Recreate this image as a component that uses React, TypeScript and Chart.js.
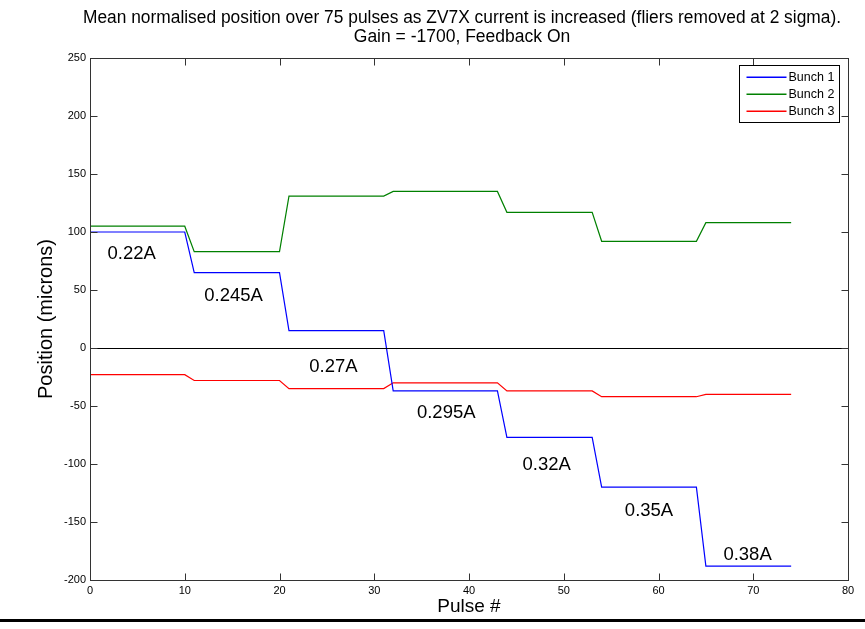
import React, { useEffect, useRef } from "react";
import { Chart, registerables } from "chart.js";

Chart.register(...registerables);

const titleLines = [
  "Mean normalised position over 75 pulses as ZV7X current is increased (fliers removed at 2 sigma).",
  "Gain = -1700, Feedback On",
];
const xTitle = "Pulse #";
const yTitle = "Position (microns)";

const pulses = Array.from({ length: 75 }, (_, i) => i);

const bunch1 = [
  100, 100, 100, 100, 100, 100, 100, 100, 100, 100, 100,
  65, 65, 65, 65, 65, 65, 65, 65, 65, 65,
  15, 15, 15, 15, 15, 15, 15, 15, 15, 15, 15,
  -37, -37, -37, -37, -37, -37, -37, -37, -37, -37, -37, -37,
  -77, -77, -77, -77, -77, -77, -77, -77, -77, -77,
  -120, -120, -120, -120, -120, -120, -120, -120, -120, -120, -120,
  -188, -188, -188, -188, -188, -188, -188, -188, -188, -188,
];
const bunch2 = [
  105, 105, 105, 105, 105, 105, 105, 105, 105, 105, 105,
  83, 83, 83, 83, 83, 83, 83, 83, 83, 83,
  131, 131, 131, 131, 131, 131, 131, 131, 131, 131, 131,
  135, 135, 135, 135, 135, 135, 135, 135, 135, 135, 135, 135,
  117, 117, 117, 117, 117, 117, 117, 117, 117, 117,
  92, 92, 92, 92, 92, 92, 92, 92, 92, 92, 92,
  108, 108, 108, 108, 108, 108, 108, 108, 108, 108,
];
const bunch3 = [
  -23, -23, -23, -23, -23, -23, -23, -23, -23, -23, -23,
  -28, -28, -28, -28, -28, -28, -28, -28, -28, -28,
  -35, -35, -35, -35, -35, -35, -35, -35, -35, -35, -35,
  -30, -30, -30, -30, -30, -30, -30, -30, -30, -30, -30, -30,
  -37, -37, -37, -37, -37, -37, -37, -37, -37, -37,
  -42, -42, -42, -42, -42, -42, -42, -42, -42, -42, -42,
  -40, -40, -40, -40, -40, -40, -40, -40, -40, -40,
];

const seriesNames = ["Bunch 1", "Bunch 2", "Bunch 3"];
const seriesColors = ["#0000ff", "#008000", "#ff0000"];

// current annotations (text, pulse, position) in data units
const currentLabels = ["0.22A", "0.245A", "0.27A", "0.295A", "0.32A", "0.35A", "0.38A"];
const currentLabelPulse = [4.4, 15.15, 25.7, 37.6, 48.2, 59, 69.4];
const currentLabelPos = [76.5, 40.3, -21, -60.6, -105, -145, -183];

const FONT = "'Liberation Sans', Arial, Helvetica, sans-serif";

const matlabPlugin = {
  id: "matlabDecor",
  afterLayout(chart: any) {
    const tb = chart.titleBlock;
    if (tb) {
      tb.left -= 7;
      tb.right -= 7;
    }
  },
  afterDatasetsDraw(chart: any) {
    const { ctx, chartArea: ca, scales } = chart;
    const ys = scales.y;
    ctx.save();
    const y0 = Math.round(ys.getPixelForValue(0)) + 0.5;
    ctx.strokeStyle = "#000";
    ctx.lineWidth = 1;
    ctx.beginPath();
    ctx.moveTo(ca.left, y0);
    ctx.lineTo(ca.right, y0);
    ctx.stroke();
    ctx.restore();
  },
  afterDraw(chart: any) {
    const { ctx, chartArea: ca, scales } = chart;
    const xs = scales.x;
    const ys = scales.y;
    ctx.save();
    const L = Math.round(ca.left) + 0.5;
    const R = Math.round(ca.right) + 0.5;
    const T = Math.round(ca.top) + 0.5;
    const B = Math.round(ca.bottom) + 0.5;
    ctx.strokeStyle = "#333";
    ctx.lineWidth = 1;
    ctx.strokeRect(L, T, R - L, B - T);
    const tl = 7;
    ctx.beginPath();
    xs.ticks.forEach((t: any) => {
      const px = Math.round(xs.getPixelForValue(t.value)) + 0.5;
      ctx.moveTo(px, B);
      ctx.lineTo(px, B - tl);
      ctx.moveTo(px, T);
      ctx.lineTo(px, T + tl);
    });
    ys.ticks.forEach((t: any) => {
      const py = Math.round(ys.getPixelForValue(t.value)) + 0.5;
      ctx.moveTo(L, py);
      ctx.lineTo(L + tl, py);
      ctx.moveTo(R, py);
      ctx.lineTo(R - tl, py);
    });
    ctx.stroke();

    // current annotations
    ctx.fillStyle = "#000";
    ctx.font = `18.5px ${FONT}`;
    ctx.textAlign = "center";
    ctx.textBaseline = "alphabetic";
    currentLabels.forEach((txt, i) => {
      const px = xs.getPixelForValue(currentLabelPulse[i]);
      const py = ys.getPixelForValue(currentLabelPos[i]);
      ctx.fillText(txt, px, py);
    });

    // legend box
    const bw = 100;
    const bh = 57;
    const bx = Math.round(ca.right) - 9 - bw + 0.5;
    const by = Math.round(ca.top) + 7 + 0.5;
    ctx.fillStyle = "#fff";
    ctx.fillRect(bx, by, bw, bh);
    ctx.strokeStyle = "#000";
    ctx.lineWidth = 1;
    ctx.strokeRect(bx, by, bw, bh);
    ctx.font = `12.5px ${FONT}`;
    ctx.textAlign = "left";
    ctx.textBaseline = "middle";
    seriesNames.forEach((name, i) => {
      const ry = Math.round(by + 11 + i * 17);
      ctx.fillStyle = seriesColors[i];
      ctx.fillRect(bx + 7, ry - 0.5, 40, 1.5);
      ctx.fillStyle = "#000";
      ctx.fillText(name, bx + 49, ry + 0.5);
    });

    // bottom rule of the figure
    ctx.fillStyle = "#000";
    ctx.fillRect(0, 619, chart.width, 3);
    ctx.restore();
  },
};

export default function App() {
  const ref = useRef<HTMLCanvasElement | null>(null);
  useEffect(() => {
    if (!ref.current) return;
    const mk = (vals: number[]) => pulses.map((p, i) => ({ x: p, y: vals[i] }));
    const seriesData = [bunch1, bunch2, bunch3];
    const chart = new Chart(ref.current, {
      type: "line",
      data: {
        datasets: seriesData.map((vals, i) => ({
          label: seriesNames[i],
          data: mk(vals),
          borderColor: seriesColors[i],
          backgroundColor: seriesColors[i],
          borderWidth: 1.2,
          pointRadius: 0,
          tension: 0,
        })),
      },
      options: {
        responsive: false,
        animation: false,
        layout: { padding: { top: 0, left: 0, right: 17, bottom: 0 } },
        plugins: {
          legend: { display: false },
          tooltip: { enabled: false },
          title: {
            display: true,
            text: titleLines,
            fullSize: false,
            color: "#000",
            font: { family: FONT, size: 17.5, weight: "normal", lineHeight: 1.1 },
            padding: { top: 8.4, bottom: 11.1 },
          },
        },
        scales: {
          x: {
            type: "linear",
            min: 0,
            max: 80,
            grid: { display: false, drawTicks: false },
            border: { display: false },
            ticks: { stepSize: 10, padding: 4, color: "#000", font: { family: FONT, size: 11 } },
            title: {
              display: true,
              text: xTitle,
              color: "#000",
              font: { family: FONT, size: 19 },
              padding: { top: 0, bottom: 10.6 },
            },
            afterFit: (s: any) => { s.height = 49; },
          },
          y: {
            type: "linear",
            min: -200,
            max: 250,
            grid: { display: false, drawTicks: false },
            border: { display: false },
            ticks: { stepSize: 50, padding: 4, color: "#000", font: { family: FONT, size: 11 } },
            title: {
              display: true,
              text: yTitle,
              color: "#000",
              font: { family: FONT, size: 20 },
              padding: { top: 34, bottom: 0 },
            },
            afterFit: (s: any) => { s.width = 90; },
          },
        },
      },
      plugins: [matlabPlugin],
    });
    return () => chart.destroy();
  }, []);
  return (
    <div style={{ position: "fixed", left: 0, top: 0, width: 865, height: 629, background: "#fff" }}>
      <canvas ref={ref} width={865} height={629} style={{ display: "block", width: 865, height: 629 }} />
    </div>
  );
}
